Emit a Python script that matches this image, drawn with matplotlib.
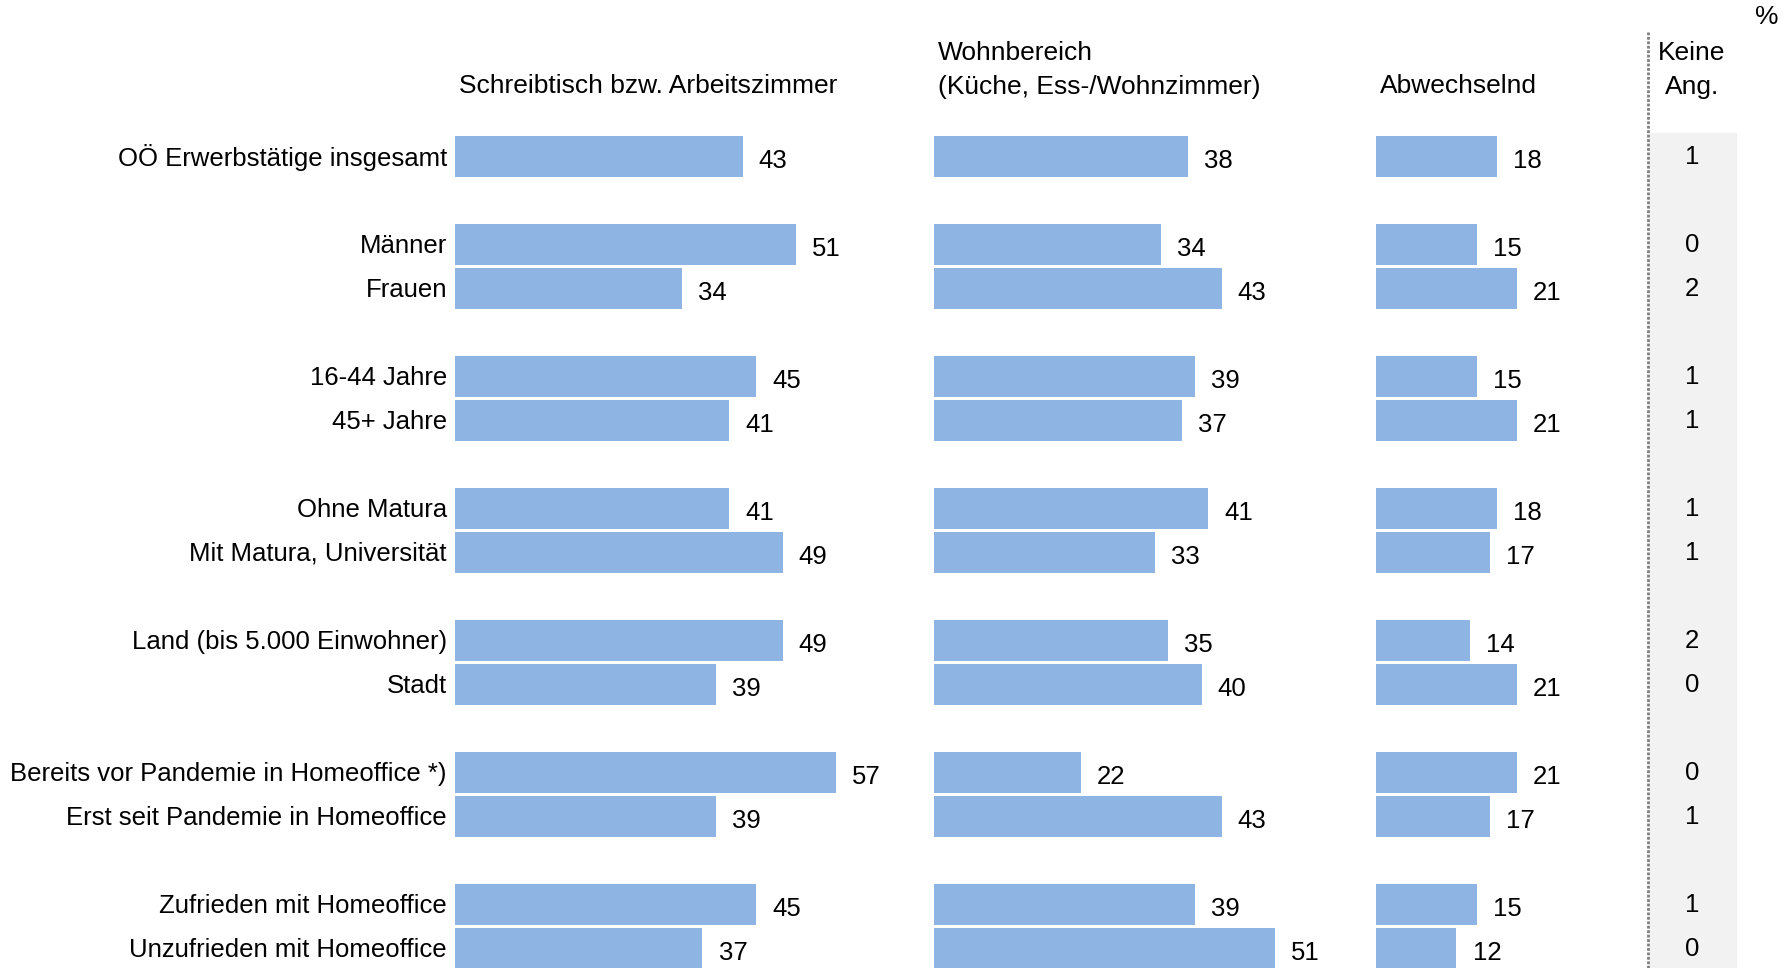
import matplotlib.pyplot as plt

plt.rcParams['font.family'] = ['Liberation Sans', 'DejaVu Sans']

# Gruppen und Werte (Prozent)
kategorien = [
    "OÖ Erwerbstätige insgesamt",
    "Männer", "Frauen",
    "16-44 Jahre", "45+ Jahre",
    "Ohne Matura", "Mit Matura, Universität",
    "Land (bis 5.000 Einwohner)", "Stadt",
    "Bereits vor Pandemie in Homeoffice *)", "Erst seit Pandemie in Homeoffice",
    "Zufrieden mit Homeoffice", "Unzufrieden mit Homeoffice",
]
zeilen = [0, 2, 3, 5, 6, 8, 9, 11, 12, 14, 15, 17, 18]

schreibtisch = [43, 51, 34, 45, 41, 41, 49, 49, 39, 57, 39, 45, 37]
wohnbereich = [38, 34, 43, 39, 37, 41, 33, 35, 40, 22, 43, 39, 51]
abwechselnd = [18, 15, 21, 15, 21, 18, 17, 14, 21, 21, 17, 15, 12]
keine_ang = [1, 0, 2, 1, 1, 1, 1, 2, 0, 0, 1, 1, 0]

spalten_titel = [
    "Schreibtisch bzw. Arbeitszimmer",
    "Wohnbereich\n(Küche, Ess-/Wohnzimmer)",
    "Abwechselnd",
]

farbe = "#8eb4e3"
fs = 18.5
fs_kopf = 19

fig = plt.figure(figsize=(17.91, 9.68), dpi=100)
ax = fig.add_axes([0, 0, 1, 1])
ax.set_xlim(-68.0, 199.7)
ax.set_ylim(18.443, -3.557)
ax.axis("off")

# drei Balkenblöcke nebeneinander, jeweils mit eigenem Nullpunkt
offsets = [0, 71.6, 137.7]
for off, werte, titel in zip(offsets, [schreibtisch, wohnbereich, abwechselnd], spalten_titel):
    ax.barh(zeilen, werte, left=off, height=0.935, color=farbe)
    for y, v in zip(zeilen, werte):
        ax.text(off + v + 2.4, y + 0.1, str(v), ha="left", va="center", fontsize=fs)
    y_kopf = -1.97 if "\n" in titel else -1.6
    ax.text(off + 0.6, y_kopf, titel, ha="left", va="center",
            fontsize=fs_kopf, linespacing=1.5)

for y, k in zip(zeilen, kategorien):
    ax.text(-1.2, y + 0.03, k, ha="right", va="center", fontsize=fs)

# Spalte "Keine Angabe" mit grauem Hintergrund
ax.axvspan(178.5, 191.5, ymin=0, ymax=(18.443 + 0.53) / 22.0, color="#f2f2f2", zorder=0)
ax.plot([178.3, 178.3], [-2.83, 18.443], color="#7f7f7f", lw=2, ls=(0, (1, 0.6)))
for y, v in zip(zeilen, keine_ang):
    ax.text(184.9, y, str(v), ha="center", va="center", fontsize=fs)
ax.text(184.9, -1.97, "Keine\nAng.", ha="center", va="center",
        fontsize=fs_kopf, linespacing=1.5)
ax.text(196.1, -3.17, "%", ha="center", va="center", fontsize=fs_kopf)

fig.savefig("out.png", dpi=100)
